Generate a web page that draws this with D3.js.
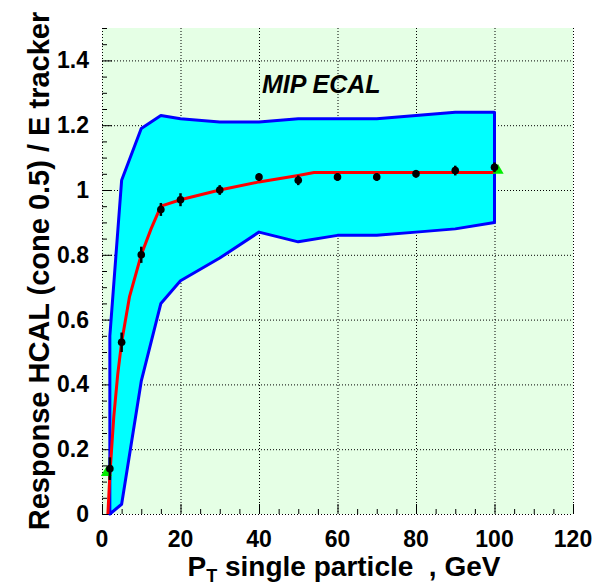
<!DOCTYPE html>
<html>
<head>
<meta charset="utf-8">
<script src="https://cdn.jsdelivr.net/npm/d3@7"></script>
<style>
  body { margin: 0; background: #fff; }
  svg text { font-family: "Liberation Sans", Arial, Helvetica, sans-serif; font-weight: bold; }
</style>
</head>
<body>
<svg id="chart" width="600" height="587"></svg>
<script>
'use strict';

// measured points (pt, response, error)
var ptPoints = [2, 5, 10, 15, 20, 30, 40, 50, 60, 70, 80, 90, 100];
var response = [0.14, 0.53, 0.80, 0.94, 0.97, 1.00, 1.04, 1.03, 1.04, 1.04, 1.05, 1.06, 1.07];
var responseErr = [0.035, 0.03, 0.025, 0.02, 0.02, 0.015, 0.012, 0.015, 0.012, 0.012, 0.012, 0.015, 0.015];

// spread band
var bandPt = [2, 5, 10, 15, 20, 30, 40, 50, 60, 70, 80, 90, 100];
var bandHigh = [0.55, 1.03, 1.19, 1.23, 1.22, 1.21, 1.21, 1.22, 1.22, 1.22, 1.23, 1.24, 1.24];
var bandLow = [0.0, 0.03, 0.41, 0.65, 0.72, 0.79, 0.87, 0.84, 0.86, 0.86, 0.87, 0.88, 0.90];

// red fit curve
var fitPt = [1.5, 2, 3, 4, 5, 7, 10, 12.5, 15, 20, 30, 40, 50, 54, 100];
var fitVal = [0, 0.12, 0.3, 0.43, 0.53, 0.67, 0.80, 0.88, 0.95, 0.97, 1.0, 1.025, 1.045, 1.054, 1.054];

// green markers
var markPt = [1.15, 100.9];
var markVal = [0.127, 1.06];

var xTicks = [0, 20, 40, 60, 80, 100, 120];
var yTicks = [0, 0.2, 0.4, 0.6, 0.8, 1, 1.2, 1.4];

var margin = {top: 28, right: 27, bottom: 73, left: 102},
    width = 600 - margin.left - margin.right,
    height = 587 - margin.top - margin.bottom;

var svgNode = d3.select('#chart');
var svg = svgNode.append('g')
  .attr('transform', 'translate(' + margin.left + ',' + margin.top + ')');

var x = d3.scaleLinear().domain([0, 120]).range([0, width]);
var y = d3.scaleLinear().domain([0, 1.5]).range([height, 0]);

// frame fill
svg.append('rect')
  .attr('width', width)
  .attr('height', height)
  .style('fill', '#e5ffe5');

// dotted grid
var grid = svg.append('g')
  .style('stroke', '#000')
  .style('stroke-width', 1)
  .style('stroke-dasharray', '1,2');

grid.selectAll('.gx')
  .data(xTicks)
  .enter().append('line')
  .attr('x1', function(d) { return x(d) + 0.5; })
  .attr('x2', function(d) { return x(d) + 0.5; })
  .attr('y1', 0)
  .attr('y2', height);

grid.selectAll('.gy')
  .data(yTicks)
  .enter().append('line')
  .attr('x1', 0)
  .attr('x2', width)
  .attr('y1', function(d) { return y(d) + 0.5; })
  .attr('y2', function(d) { return y(d) + 0.5; });

// tick marks, pointing inwards
var xAxis = d3.axisTop(x)
  .tickValues(d3.range(0, 121, 5))
  .tickSize(5)
  .tickFormat('');
var gx = svg.append('g')
  .attr('transform', 'translate(0,' + height + ')')
  .call(xAxis);
gx.select('.domain').remove();
gx.selectAll('.tick line')
  .attr('y2', function(d) { return d % 20 === 0 ? -10 : -5; });

var yAxis = d3.axisRight(y)
  .tickValues(d3.range(0, 31).map(function(i) { return i * 0.05; }))
  .tickSize(5)
  .tickFormat('');
var gy = svg.append('g').call(yAxis);
gy.select('.domain').remove();
gy.selectAll('.tick line')
  .attr('x2', function(d, i) { return i % 4 === 0 ? 10 : 5; });

// tick labels
svg.append('g').selectAll('text')
  .data(xTicks)
  .enter().append('text')
  .attr('x', function(d) { return x(d); })
  .attr('y', height + 33)
  .attr('text-anchor', 'middle')
  .style('font-size', '23px')
  .text(function(d) { return d; });

svg.append('g').selectAll('text')
  .data(yTicks)
  .enter().append('text')
  .attr('x', -13)
  .attr('y', function(d) { return y(d) + 8; })
  .attr('text-anchor', 'end')
  .style('font-size', '23px')
  .text(function(d) { return d; });

// spread band
var bandData = bandPt.map(function(p, i) { return {pt: p, lo: bandLow[i], hi: bandHigh[i]}; });
var band = d3.area()
  .x(function(d) { return x(d.pt); })
  .y0(function(d) { return y(d.lo); })
  .y1(function(d) { return y(d.hi); });

svg.append('path')
  .datum(bandData)
  .attr('d', band)
  .style('fill', '#00ffff')
  .style('stroke', '#0000ff')
  .style('stroke-width', 3)
  .style('stroke-linejoin', 'round');

// fit curve
var fitLine = d3.line()
  .x(function(d) { return x(d[0]); })
  .y(function(d) { return y(d[1]); });

svg.append('path')
  .datum(fitPt.map(function(p, i) { return [p, fitVal[i]]; }))
  .attr('d', fitLine)
  .style('fill', 'none')
  .style('stroke', '#ff0000')
  .style('stroke-width', 3);

// green triangles
svg.append('g').selectAll('path')
  .data(markPt)
  .enter().append('path')
  .attr('d', d3.symbol().type(d3.symbolTriangle).size(55))
  .attr('transform', function(d, i) { return 'translate(' + x(d) + ',' + y(markVal[i]) + ')'; })
  .style('fill', '#00ee00');

// points with error bars
var pts = svg.append('g').selectAll('g')
  .data(ptPoints)
  .enter().append('g');

pts.append('line')
  .attr('x1', function(d) { return x(d); })
  .attr('x2', function(d) { return x(d); })
  .attr('y1', function(d, i) { return y(response[i] - responseErr[i]); })
  .attr('y2', function(d, i) { return y(response[i] + responseErr[i]); })
  .style('stroke', '#000')
  .style('stroke-width', 2.5);

pts.append('circle')
  .attr('cx', function(d) { return x(d); })
  .attr('cy', function(d, i) { return y(response[i]); })
  .attr('r', 3.8)
  .style('fill', '#000');

// label inside the frame
svg.append('text')
  .attr('x', 160)
  .attr('y', 65)
  .style('font-size', '25px')
  .style('font-style', 'italic')
  .text('MIP ECAL');

// axis titles
var xt = svgNode.append('text')
  .attr('x', 344)
  .attr('y', 576)
  .attr('text-anchor', 'middle')
  .style('font-size', '28px')
  .style('white-space', 'pre');
xt.append('tspan').text('P');
xt.append('tspan').attr('dy', 6).style('font-size', '18px').text('T');
xt.append('tspan').attr('dy', -6).text(' single particle  , GeV');

svgNode.append('text')
  .attr('transform', 'translate(49,' + (margin.top + height / 2) + ') rotate(-90)')
  .attr('text-anchor', 'middle')
  .style('font-size', '29px')
  .text('Response HCAL (cone 0.5) / E tracker');
</script>
</body>
</html>
